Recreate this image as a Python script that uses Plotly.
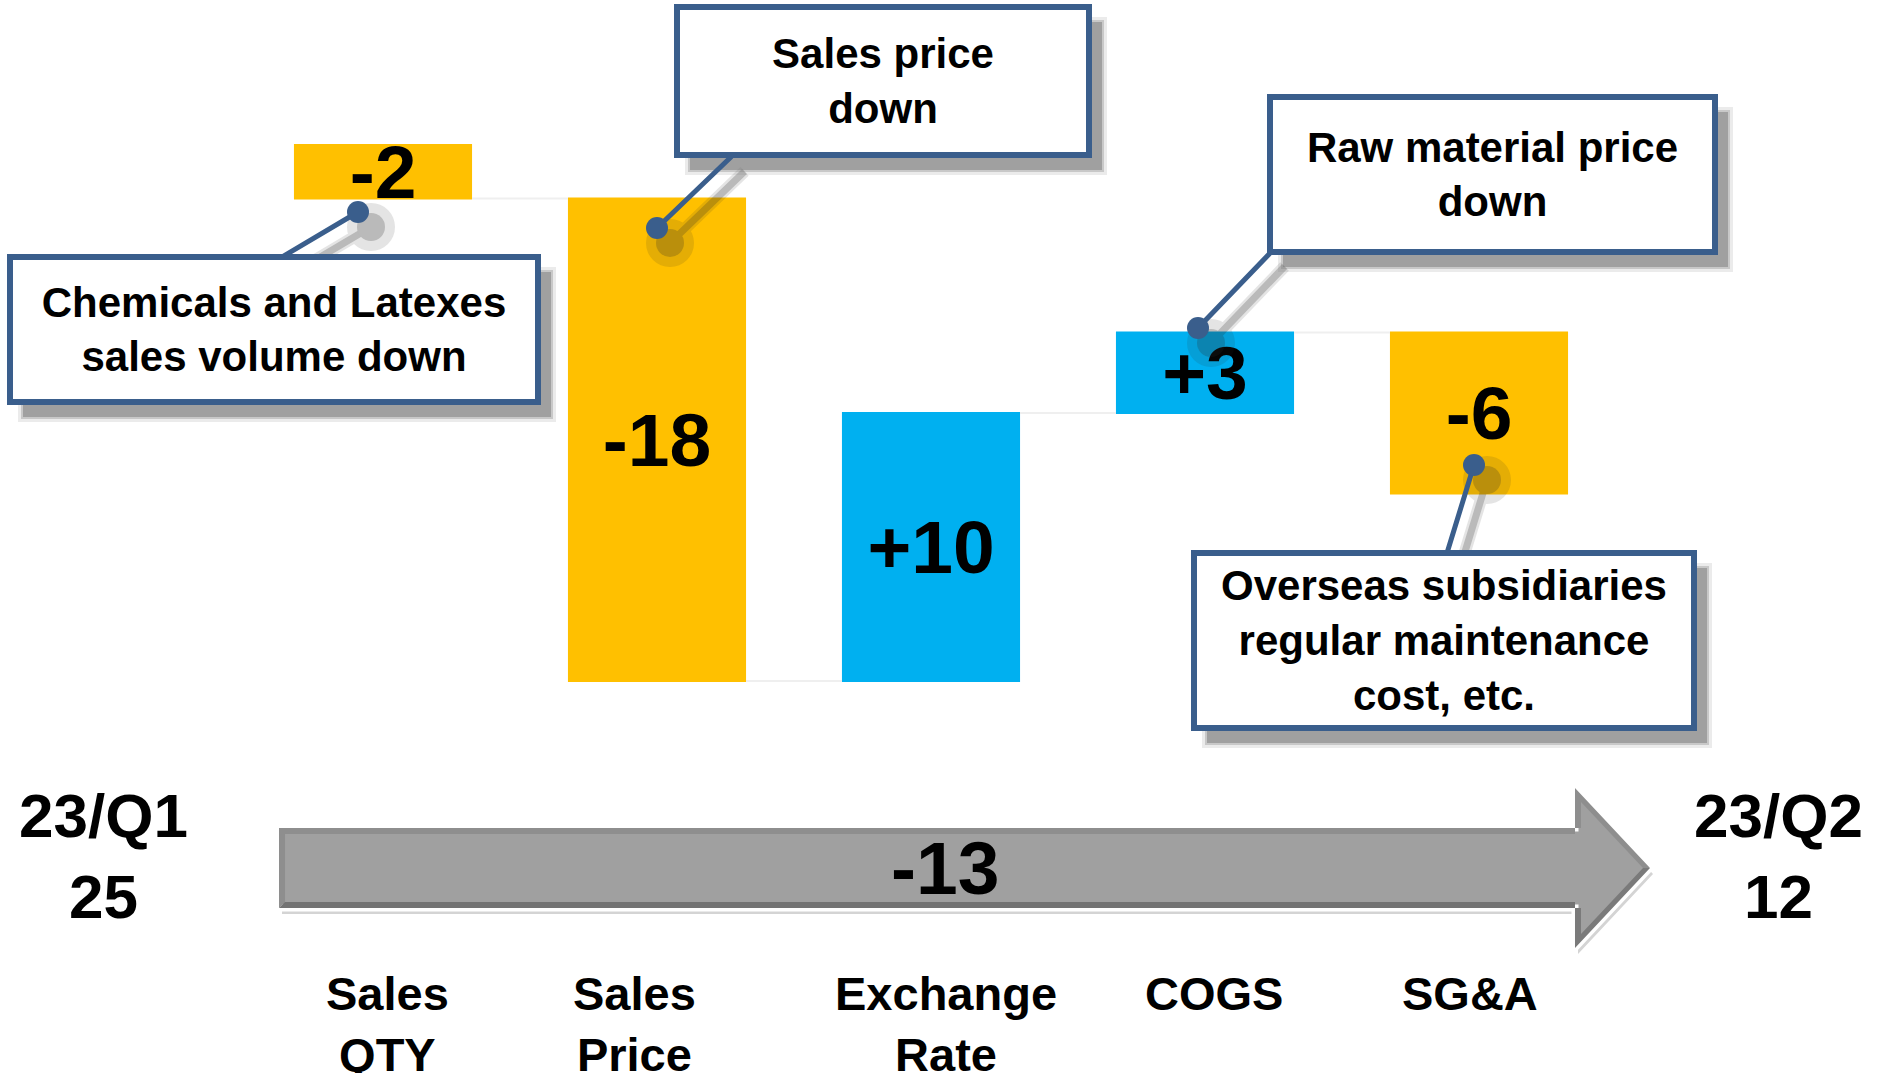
import plotly.graph_objects as go

# ---------------- data ----------------
categories = ["Sales<br>QTY", "Sales<br>Price", "Exchange<br>Rate", "COGS", "SG&A"]
changes = [-2, -18, 10, 3, -6]
start_label = "23/Q1"
start_value = 25
end_label = "23/Q2"
end_value = 12
bar_labels = [f"{v:+d}" for v in changes]
total_change = end_value - start_value

callout_texts = [
    "Chemicals and Latexes<br>sales volume down",
    "Sales price<br>down",
    "Raw material price<br>down",
    "Overseas subsidiaries<br>regular maintenance<br>cost, etc.",
]

# ---------------- layout geometry (pixels) ----------------
W, H = 1881, 1073
X0_PX, DX_PX = 383.0, 274.0      # pixel centre of first category, category spacing
Y0_PX, DY_PX = 815.0, 26.8       # pixel of value 0, pixels per unit
x_range = [(0 - X0_PX) / DX_PX, (W - X0_PX) / DX_PX]
y_range = [(Y0_PX - H) / DY_PX, Y0_PX / DY_PX]

FONT = "Liberation Sans, Arial, sans-serif"
NAVY = "#3A5E8C"
YELLOW = "#FFC000"
BLUE = "#00B0F0"


def pp(px, py):
    """pixel -> paper"""
    return px / W, 1 - py / H


fig = go.Figure()
fig.add_trace(go.Waterfall(
    x=categories,
    y=changes,
    base=start_value,
    measure=["relative"] * len(changes),
    text=bar_labels,
    textposition="inside",
    textangle=0,
    constraintext="none",
    insidetextanchor="middle",
    insidetextfont=dict(family=FONT, size=75, color="black", weight="bold"),
    decreasing=dict(marker=dict(color=YELLOW)),
    increasing=dict(marker=dict(color=BLUE)),
    connector=dict(line=dict(color="#EFEFEF", width=2)),
    hoverinfo="skip",
))

# ---------------- big grey arrow ----------------
def path_from(points):
    s = ""
    for i, (px, py) in enumerate(points):
        x, y = pp(px, py)
        s += ("M" if i == 0 else "L") + f"{x:.5f},{y:.5f} "
    return s + "Z"

arrow_pts = [(279, 828), (1575, 828), (1575, 788), (1650, 868),
             (1575, 948), (1575, 908), (279, 908)]
shadow_pts = [(x + 3, y + 6) for x, y in arrow_pts]
shapes = [
    dict(type="path", xref="paper", yref="paper", path=path_from(shadow_pts),
         fillcolor="#D4D4D4", line=dict(width=0), layer="above"),
    dict(type="path", xref="paper", yref="paper", path=path_from(arrow_pts),
         fillcolor="#A0A0A0", line=dict(color="white", width=7), layer="above"),
    dict(type="path", xref="paper", yref="paper",
         path=path_from([(279, 828), (1575, 828), (1575, 834), (285, 834), (285, 902), (279, 908)]),
         fillcolor="#8E8E8E", line=dict(width=0), layer="above"),
    dict(type="path", xref="paper", yref="paper",
         path=path_from([(279, 908), (285, 902), (1575, 902), (1575, 908)]),
         fillcolor="#737373", line=dict(width=0), layer="above"),
    dict(type="path", xref="paper", yref="paper",
         path=path_from([(1575, 948), (1650, 868), (1643, 868), (1581, 934), (1581, 908), (1575, 908)]),
         fillcolor="#7A7A7A", line=dict(width=0), layer="above"),
    dict(type="path", xref="paper", yref="paper",
         path=path_from([(1575, 788), (1650, 868), (1643, 868), (1581, 802), (1581, 828), (1575, 828)]),
         fillcolor="#8E8E8E", line=dict(width=0), layer="above"),
]

annotations = []

# ---------------- callouts ----------------
# (box centre x, box centre y, inner width, inner height), line start, dot position -- pixels
callout_geo = [
    ((274, 329.5, 522, 139), (282, 257), (358, 212)),
    ((883, 81, 406, 142), (733, 155), (657, 228)),
    ((1492.5, 174.5, 439, 149), (1273, 250), (1198, 328)),
    ((1444, 640.5, 494, 169), (1447, 553), (1474, 465)),
]
BW = 6
SH_DX, SH_DY = 13, 15

# soft shadows of pointer lines
for (box, start, dot) in callout_geo:
    for wid, alpha in [(12, 0.12), (7, 0.22)]:
        x, y = pp(dot[0] + SH_DX, dot[1] + SH_DY)
        annotations.append(dict(
            xref="paper", yref="paper", x=x, y=y, text="", showarrow=True,
            axref="pixel", ayref="pixel", ax=start[0] - dot[0], ay=start[1] - dot[1],
            arrowhead=6, arrowsize=1.0, arrowwidth=wid, arrowcolor=f"rgba(40,40,40,{alpha})",
            standoff=0, startstandoff=0))

# shadows of boxes
for (box, start, dot) in callout_geo:
    cx, cy, w, h = box
    for grow, alpha in [(10, 0.15), (4, 0.3), (0, 0.5)]:
        x, y = pp(cx + SH_DX, cy + SH_DY)
        annotations.append(dict(
            xref="paper", yref="paper", x=x, y=y, xanchor="center", yanchor="middle",
            text=" ", showarrow=False, width=w + BW + grow, height=h + BW + grow,
            bgcolor=f"rgba(120,120,120,{alpha})", borderwidth=0, borderpad=0))

# pointer lines with dots
for (box, start, dot) in callout_geo:
    x, y = pp(*dot)
    annotations.append(dict(
        xref="paper", yref="paper", x=x, y=y, text="", showarrow=True,
        axref="pixel", ayref="pixel", ax=start[0] - dot[0], ay=start[1] - dot[1],
        arrowhead=6, arrowsize=1.1, arrowwidth=5, arrowcolor=NAVY,
        standoff=0, startstandoff=0))

# boxes
for txt, (box, start, dot) in zip(callout_texts, callout_geo):
    cx, cy, w, h = box
    x, y = pp(cx, cy)
    annotations.append(dict(
        xref="paper", yref="paper", x=x, y=y, xanchor="center", yanchor="middle",
        text=txt, showarrow=False, width=w, height=h, align="center", valign="middle",
        bgcolor="white", bordercolor=NAVY, borderwidth=BW, borderpad=0,
        font=dict(family=FONT, size=42, color="black", weight="bold")))

# category labels (placed under each bar, with small per-label nudges as in the original)
label_nudge_px = [4, -23, 15, 9, -9]
_, label_top = pp(0, 965)
for cat, dx in zip(categories, label_nudge_px):
    annotations.append(dict(
        xref="x", yref="paper", x=cat, y=label_top, xshift=dx,
        xanchor="center", yanchor="top", text=cat, showarrow=False, align="center",
        font=dict(family=FONT, size=47, color="black", weight="bold")))

# start / end labels
for lbl, val, cxp in [(start_label, start_value, 103), (end_label, end_value, 1778)]:
    x, y = pp(cxp, 856)
    annotations.append(dict(
        xref="paper", yref="paper", x=x, y=y, xanchor="center", yanchor="middle",
        text=f"{lbl}<br>{val}", showarrow=False, align="center",
        font=dict(family=FONT, size=62, color="black", weight="bold")))

# total change on the arrow
x, y = pp(945, 868)
annotations.append(dict(
    xref="paper", yref="paper", x=x, y=y, xanchor="center", yanchor="middle",
    text=f"{total_change:+d}" if total_change > 0 else f"{total_change}",
    showarrow=False,
    font=dict(family=FONT, size=75, color="black", weight="bold")))

fig.update_layout(
    width=W, height=H,
    margin=dict(l=0, r=0, t=0, b=0, pad=0),
    paper_bgcolor="white", plot_bgcolor="white",
    template="none",
    showlegend=False,
    waterfallgap=0.35,
    shapes=shapes,
    annotations=annotations,
    xaxis=dict(
        type="category", range=x_range,
        showgrid=False, zeroline=False, showline=False, ticks="",
        showticklabels=False, automargin=False,
    ),
    yaxis=dict(range=y_range, visible=False, automargin=False, showgrid=False, zeroline=False),
)

fig.write_html(
    "out.html",
    config={"displayModeBar": False},
    post_script="document.body.style.margin='0';document.body.style.overflow='hidden';",
)
